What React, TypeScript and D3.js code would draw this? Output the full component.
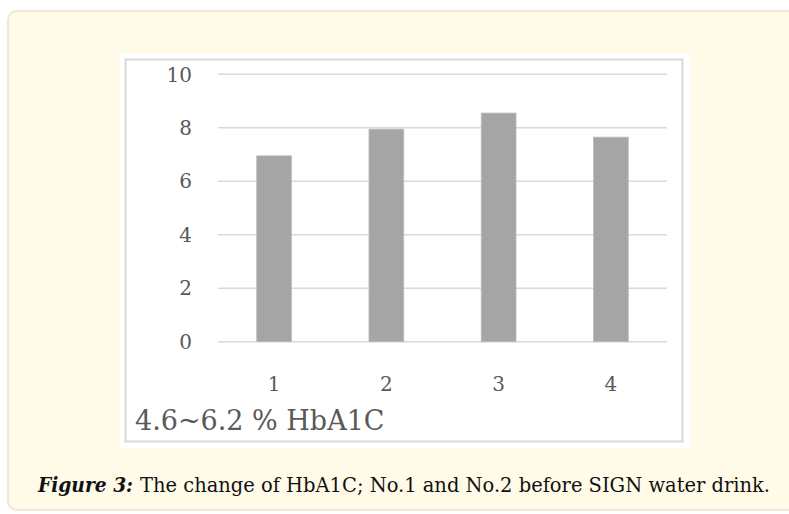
import React from 'react';
import * as d3 from 'd3';

// HbA1C readings, samples 1..4
const categories = ['1', '2', '3', '4'];
const hba1c = [6.95, 7.95, 8.55, 7.65];
const yTicks = [0, 2, 4, 6, 8, 10];
const rangeLabel = '4.6~6.2 % HbA1C';
const captionLead = 'Figure 3:';
const captionText = 'The change of HbA1C; No.1 and No.2 before SIGN water drink.';

const W = 789;
const H = 514;

const App: React.FC = () => {
  const x = d3.scaleBand<string>()
    .domain(categories)
    .range([218, 667])
    .paddingInner(0.69)
    .paddingOuter(0.345);

  const y = d3.scaleLinear().domain([0, 10]).range([341.7, 74.3]);

  const chartFont = '"DejaVu Serif", "Liberation Serif", serif';
  const labelColor = '#595959';

  return (
    <svg
      width={W}
      height={H}
      style={{ position: 'absolute', left: 0, top: 0, background: '#fff' }}
    >
      {/* cream figure panel */}
      <rect x={8} y={11} width={820} height={499} rx={9} fill="#fffbe8" stroke="#ece9da" strokeWidth={2} />

      {/* chart image */}
      <rect x={120} y={53} width={570} height={395} fill="#fff" />
      <rect x={125.5} y={59.5} width={557} height={382} fill="none" stroke="#d9d9d9" strokeWidth={2} />

      {/* gridlines */}
      {yTicks.map((t) => (
        <line
          key={t}
          x1={x.range()[0]}
          x2={x.range()[1]}
          y1={y(t)}
          y2={y(t)}
          stroke="#d9d9d9"
          strokeWidth={1.6}
        />
      ))}

      {/* bars */}
      {hba1c.map((v, i) => (
        <rect
          key={categories[i]}
          x={x(categories[i])}
          y={y(v)}
          width={x.bandwidth()}
          height={y(0) - y(v)}
          fill="#a5a5a5"
          stroke="#bcbcbc"
          strokeWidth={0.8}
        />
      ))}

      {/* y labels */}
      {yTicks.map((t) => (
        <text
          key={t}
          x={192}
          y={y(t)}
          dy="0.36em"
          textAnchor="end"
          fontFamily={chartFont}
          fontSize={20}
          fill={labelColor}
        >
          {t}
        </text>
      ))}

      {/* x labels */}
      {categories.map((c) => (
        <text
          key={c}
          x={(x(c) ?? 0) + x.bandwidth() / 2}
          y={391}
          textAnchor="middle"
          fontFamily={chartFont}
          fontSize={20}
          fill={labelColor}
        >
          {c}
        </text>
      ))}

      <text x={135} y={430} fontFamily={chartFont} fontSize={27} fill={labelColor}>
        {rangeLabel}
      </text>

      {/* caption */}
      <text
        x={38}
        y={492}
        fontFamily='"DejaVu Serif Condensed", "Liberation Serif", serif'
        fontSize={20}
        fontWeight="bold"
        fontStyle="italic"
        fill="#111"
        textLength={95}
        lengthAdjust="spacingAndGlyphs"
      >
        {captionLead}
      </text>
      <text
        x={140}
        y={492}
        fontFamily='"DejaVu Serif Condensed", "Liberation Serif", serif'
        fontSize={20}
        fill="#111"
        textLength={630}
        lengthAdjust="spacingAndGlyphs"
      >
        {captionText}
      </text>
    </svg>
  );
};

export default App;
